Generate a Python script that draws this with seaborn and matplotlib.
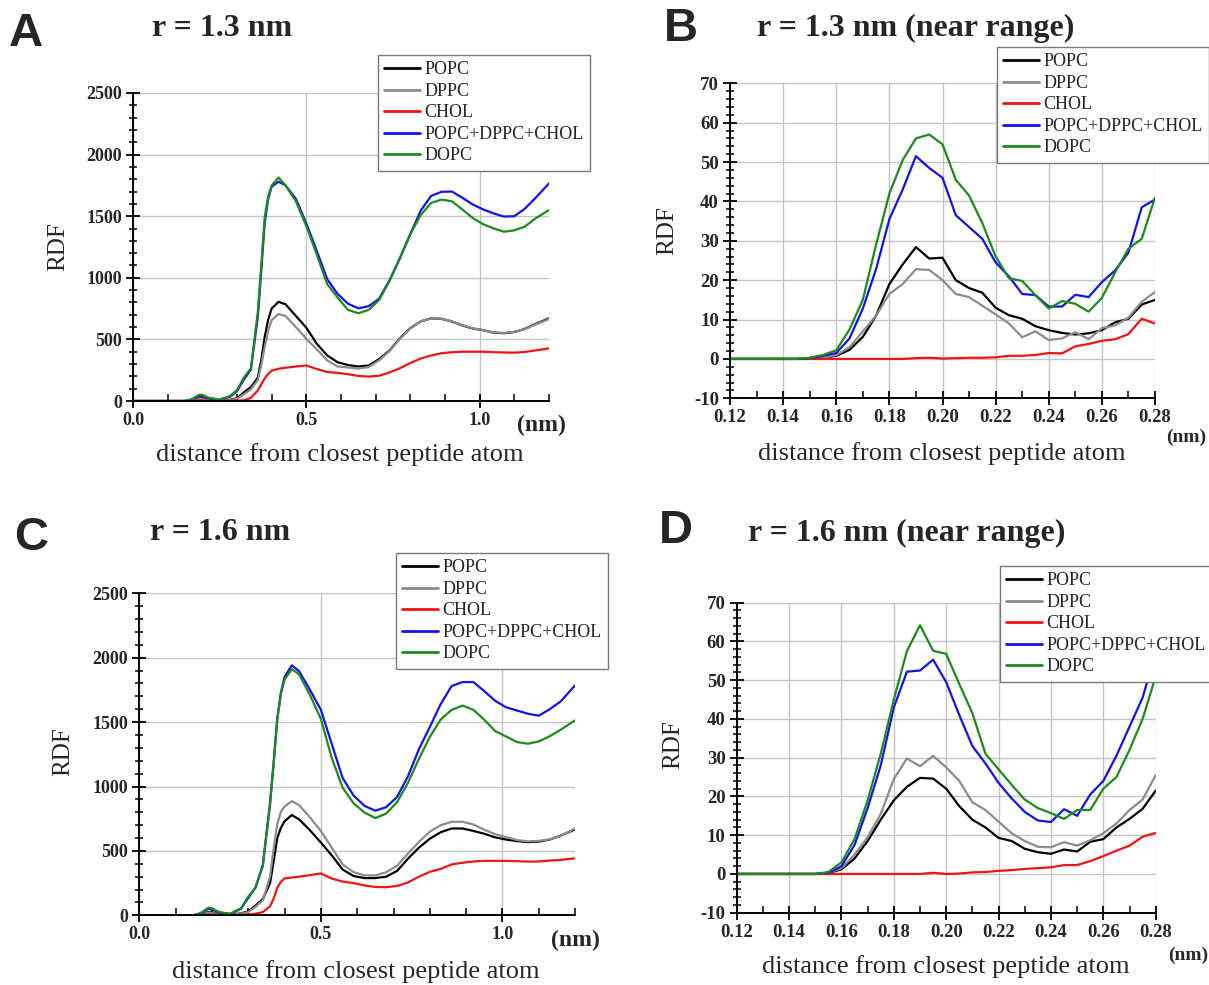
import numpy as np
import pandas as pd
import matplotlib
matplotlib.use("Agg")
import matplotlib.pyplot as plt
from matplotlib.ticker import MultipleLocator, FormatStrFormatter
import seaborn as sns

# ---------------------------------------------------------------
# data
# ---------------------------------------------------------------
lipids = ["POPC", "DPPC", "CHOL", "POPC+DPPC+CHOL", "DOPC"]
lipid_colors = ["#000000", "#8c8c8c", "#f01414", "#1212ee", "#1c8a1c"]

# long range (panels A and C), nm
dist_long = [0.00, 0.10, 0.15, 0.17, 0.19, 0.20, 0.22, 0.25, 0.28,
             0.30, 0.32, 0.34, 0.36, 0.37, 0.38, 0.39, 0.40,
             0.42, 0.44, 0.47, 0.50,
             0.53, 0.56, 0.59, 0.62, 0.65, 0.68, 0.71, 0.74, 0.77, 0.80, 0.83,
             0.86, 0.89, 0.92, 0.95, 0.98, 1.01, 1.04, 1.07, 1.10, 1.13, 1.16,
             1.20]

a_popc = [0, 0, 0, 5, 20, 20, 10, 5, 10,
          22, 70, 112, 190, 330, 522, 660, 751,
          805, 785, 690, 595,
          465, 370, 315, 292, 280, 288, 340, 410, 509, 592, 646,
          671, 667, 645, 614, 588, 575, 555, 550, 560, 585, 624,
          671]
a_dppc = [0, 0, 0, 4, 15, 15, 8, 4, 8,
          18, 55, 95, 170, 290, 440, 570, 657,
          705, 690, 600, 505,
          420, 330, 280, 272, 263, 275, 330, 405, 505, 590, 646,
          671, 668, 646, 616, 590, 575, 557, 552, 562, 583, 620,
          665]
a_chol = [0, 0, 0, 0, 5, 5, 3, 2, 3,
          3, 6, 25, 85, 135, 184, 220, 246,
          262, 270, 280, 288,
          260, 235, 228, 218, 203, 198, 205, 232, 266, 308, 345,
          370, 388, 396, 400, 400, 400, 396, 394, 392, 398, 410,
          427]
a_mix = [0, 0, 0, 12, 40, 40, 20, 10, 35,
         80, 175, 255, 680, 1060, 1450, 1640, 1740,
         1780, 1750, 1640, 1440,
         1220, 990, 870, 790, 752, 770, 830, 980, 1160, 1355, 1545,
         1665, 1698, 1700, 1650, 1595, 1555, 1523, 1497, 1500, 1560, 1645,
         1766]
a_dopc = [0, 0, 0, 15, 50, 50, 25, 12, 40,
          89, 190, 265, 720, 1100, 1495, 1660, 1750,
          1814, 1750, 1620, 1420,
          1190, 950, 840, 740, 712, 740, 820, 975, 1160, 1355, 1510,
          1608, 1635, 1620, 1555, 1485, 1435, 1401, 1374, 1385, 1415, 1480,
          1550]

c_popc = [0, 0, 0, 5, 25, 22, 10, 5, 15,
          30, 75, 125, 250, 420, 600, 680, 730,
          778, 745, 660, 565,
          465, 355, 305, 289, 289, 300, 345, 440, 525, 595, 645,
          674, 674, 655, 633, 605, 588, 576, 568, 572, 588, 618,
          667]
c_dppc = [0, 0, 0, 4, 20, 18, 8, 4, 12,
          25, 65, 115, 300, 520, 710, 805, 845,
          886, 855, 760, 655,
          525, 395, 335, 310, 310, 335, 385, 480, 570, 650, 700,
          726, 726, 705, 665, 630, 607, 584, 574, 578, 590, 615,
          674]
c_chol = [0, 0, 0, 0, 5, 5, 3, 2, 3,
          5, 12, 25, 70, 130, 215, 260, 287,
          293, 300, 312, 325,
          285, 262, 250, 232, 220, 218, 228, 255, 300, 337, 360,
          395, 408, 418, 423, 423, 423, 420, 417, 418, 425, 430,
          442]
c_mix = [0, 0, 0, 15, 50, 45, 20, 10, 50,
         135, 215, 390, 870, 1190, 1530, 1730, 1850,
         1941, 1895, 1750, 1595,
         1330, 1065, 930, 850, 812, 840, 920, 1080, 1290, 1462, 1640,
         1780, 1811, 1811, 1740, 1665, 1615, 1590, 1565, 1550, 1600, 1660,
         1785]
c_dopc = [0, 0, 0, 20, 58, 55, 25, 12, 55,
          145, 215, 380, 860, 1180, 1520, 1720, 1830,
          1912, 1870, 1710, 1525,
          1220, 990, 870, 798, 755, 790, 880, 1030, 1215, 1385, 1520,
          1595, 1628, 1595, 1518, 1430, 1388, 1345, 1332, 1350, 1390, 1440,
          1514]

# near range (panels B and D), nm
dist_near = [0.120, 0.125, 0.130, 0.135, 0.140, 0.145, 0.150, 0.155, 0.160,
             0.165, 0.170, 0.175, 0.180, 0.185, 0.190, 0.195, 0.200, 0.205,
             0.210, 0.215, 0.220, 0.225, 0.230, 0.235, 0.240, 0.245, 0.250,
             0.255, 0.260, 0.265, 0.270, 0.275, 0.280]

b_popc = [0, 0, 0, 0, 0, 0, 0, 0.2, 0.8, 2.3, 5.6, 11, 19, 24, 28.4, 25.5,
          25.7, 20, 18, 16.8, 13, 11.1, 10.2, 8.3, 7.3, 6.6, 6.2, 6.5, 7.3,
          9.3, 10.2, 13.8, 15]
b_dppc = [0, 0, 0, 0, 0, 0, 0, 0.2, 1.0, 3.0, 7.0, 11, 16.5, 19, 22.8, 22.6,
          20, 16.5, 15.7, 13.5, 11.3, 9, 5.5, 7, 4.8, 5.2, 6.8, 5, 7.8, 8.5,
          10.5, 14.5, 17]
b_chol = [0, 0, 0, 0, 0, 0, 0, 0, 0, 0, 0, 0, 0, 0, 0.2, 0.3, 0.1, 0.2,
          0.3, 0.3, 0.4, 0.8, 0.8, 1.0, 1.5, 1.4, 3.2, 3.8, 4.6, 5.0, 6.3,
          10.2, 9.0]
b_mix = [0, 0, 0, 0, 0, 0, 0.2, 0.8, 1.5, 5.2, 12.8, 22.8, 35.5, 43, 51.5,
         48.5, 46, 36.5, 33.5, 30.5, 24.5, 21, 16.5, 16.2, 13.3, 13.3, 16.3,
         15.7, 19.5, 22.5, 27, 38.5, 40.5]
b_dopc = [0, 0, 0, 0, 0, 0, 0.3, 1.0, 2.2, 7.5, 15, 29, 42, 50.5, 56, 57,
          54.5, 45.5, 41.5, 34.5, 26, 20.5, 19.8, 16.2, 12.8, 14.7, 14, 12,
          15.5, 22, 28, 30.5, 41]

d_popc = [0, 0, 0, 0, 0, 0, 0, 0.2, 1.2, 4, 8.5, 14, 19, 22.5, 24.8, 24.6,
          22, 17.5, 14, 12, 9.3, 8.5, 6.5, 5.6, 5.2, 6.3, 5.8, 8.3, 9, 12,
          14.2, 16.8, 21.5]
d_dppc = [0, 0, 0, 0, 0, 0, 0, 0.3, 1.5, 5, 9.5, 15.5, 24.5, 29.8, 27.8,
          30.5, 27.5, 24, 18.5, 16.5, 13.5, 10.5, 8.5, 7, 6.9, 8.2, 7.3, 8.7,
          10.5, 13, 16.5, 19.2, 25.5]
d_chol = [0, 0, 0, 0, 0, 0, 0, 0, 0, 0, 0, 0, 0, 0, 0, 0.3, 0, 0.1, 0.4,
          0.5, 0.8, 1.0, 1.3, 1.5, 1.7, 2.3, 2.3, 3.3, 4.6, 6, 7.3, 9.6, 10.6]
d_mix = [0, 0, 0, 0, 0, 0, 0, 0.3, 2, 7.5, 17, 28, 43, 52.2, 52.5, 55.3,
         49.5, 41, 33, 28.5, 23.5, 19.5, 16, 13.8, 13.4, 16.7, 15, 20.5, 24,
         30.5, 38, 45.5, 57]
d_dopc = [0, 0, 0, 0, 0, 0, 0, 0.5, 3, 9, 19, 31, 45, 57.5, 64.2, 57.6,
          56.8, 49, 41.5, 31, 27, 23, 19.2, 17, 15.7, 14.2, 16.5, 16.5, 22,
          25, 32, 40, 51]

# ---------------------------------------------------------------
# style
# ---------------------------------------------------------------
sns.set_style("ticks")
plt.rcParams["font.family"] = ["Liberation Serif", "DejaVu Serif"]
plt.rcParams["axes.unicode_minus"] = False

W, H = 1209, 985
palette = dict(zip(lipids, lipid_colors))


def make_frame(distance, series):
    """Long-form table for one panel."""
    frame = pd.DataFrame({"distance": distance})
    for name, values in zip(lipids, series):
        frame[name] = values
    return frame.melt(id_vars="distance", var_name="lipid", value_name="RDF")


def fig_xy(px, py):
    return px / W, 1 - py / H


def draw_panel(fig, rect, frame, xlim, ylim, xmajor, xminor, ymajor, yminor,
               xfmt, xtick_size, ytick_size, legend_corner, label_pos):
    ax = fig.add_axes(rect)

    sns.lineplot(
        data=frame,
        x="distance",
        y="RDF",
        hue="lipid",
        hue_order=lipids,
        palette=palette,
        estimator=None,
        sort=False,
        linewidth=1.6,
        ax=ax
    )

    ax.set_xlim(*xlim)
    ax.set_ylim(*ylim)

    ax.xaxis.set_major_locator(MultipleLocator(xmajor))
    ax.xaxis.set_minor_locator(MultipleLocator(xminor))
    ax.yaxis.set_major_locator(MultipleLocator(ymajor))
    ax.yaxis.set_minor_locator(MultipleLocator(yminor))
    ax.xaxis.set_major_formatter(FormatStrFormatter(xfmt))

    ax.grid(True, which="major", color="#c4c4c4", linewidth=1.0)
    ax.set_axisbelow(True)

    sns.despine(ax=ax)
    for side in ["left", "bottom"]:
        ax.spines[side].set_linewidth(1.4)
        ax.spines[side].set_color("black")

    ax.tick_params(which="both", bottom=True, left=True, top=False,
                   right=False)
    ax.tick_params(which="major", direction="inout", length=10, width=1.3,
                   color="black")
    ax.tick_params(which="minor", direction="inout", length=6, width=1.1,
                   color="black")
    ax.tick_params(axis="x", which="minor", direction="in", length=5)
    ax.tick_params(axis="x", which="major", labelsize=xtick_size, pad=3)
    ax.tick_params(axis="y", which="major", labelsize=ytick_size, pad=3)
    for label in ax.get_xticklabels() + ax.get_yticklabels():
        label.set_fontweight("bold")

    ax.set_xlabel("distance from closest peptide atom", fontsize=19)
    ax.set_ylabel("RDF", fontsize=18)
    ax.xaxis.set_label_coords(*label_pos[0])
    ax.yaxis.set_label_coords(*label_pos[1])
    ax.xaxis.label.set_va("center")
    ax.yaxis.label.set_va("center")

    handles, labels = ax.get_legend_handles_labels()
    keep = [(h, l) for h, l in zip(handles, labels) if l in lipids]
    legend = ax.legend(
        [h for h, _ in keep],
        [l for _, l in keep],
        loc="upper left",
        bbox_to_anchor=fig_xy(*legend_corner),
        bbox_transform=fig.transFigure,
        fontsize=13,
        frameon=True,
        fancybox=False,
        framealpha=1,
        edgecolor="#7a7a7a",
        labelspacing=0.25,
        handlelength=2.0,
        handletextpad=0.2,
        borderpad=0.35,
        borderaxespad=0
    )
    legend.get_frame().set_linewidth(1.0)
    for line in legend.get_lines():
        line.set_linewidth(2.0)

    return ax


fig = plt.figure(figsize=(W / 100, H / 100), dpi=100)

long_ticks = dict(xlim=(0, 1.2), ylim=(0, 2500), xmajor=0.5, xminor=0.1,
                  ymajor=500, yminor=100, xfmt="%.1f",
                  xtick_size=13, ytick_size=13)
near_ticks = dict(xlim=(0.12, 0.28), ylim=(-10, 70), xmajor=0.02,
                  xminor=0.01, ymajor=10, yminor=2, xfmt="%.2f",
                  xtick_size=13.5, ytick_size=13.5)

# A
draw_panel(fig, [133 / W, 1 - 401 / H, 416 / W, 308 / H],
           make_frame(dist_long, [a_popc, a_dppc, a_chol, a_mix, a_dopc]),
           legend_corner=(378, 55),
           label_pos=((0.498, -0.175), (-0.18, 0.5)),
           **long_ticks)
# B
draw_panel(fig, [730 / W, 1 - 398.3 / H, 425 / W, 315 / H],
           make_frame(dist_near, [b_popc, b_dppc, b_chol, b_mix, b_dopc]),
           legend_corner=(997, 47),
           label_pos=((0.499, -0.174), (-0.148, 0.534)),
           **near_ticks)
# C
draw_panel(fig, [139.3 / W, 1 - 915.3 / H, 435.8 / W, 322 / H],
           make_frame(dist_long, [c_popc, c_dppc, c_chol, c_mix, c_dopc]),
           legend_corner=(396, 553),
           label_pos=((0.497, -0.176), (-0.175, 0.507)),
           **long_ticks)
# D
draw_panel(fig, [736.7 / W, 1 - 912.7 / H, 419 / W, 310 / H],
           make_frame(dist_near, [d_popc, d_dppc, d_chol, d_mix, d_dopc]),
           legend_corner=(1000, 566),
           label_pos=((0.5, -0.175), (-0.152, 0.541)),
           **near_ticks)

# panel letters and titles
panel_text = [
    ("A", (26, 34), "r = 1.3 nm", (152, 28)),
    ("B", (681, 29), "r = 1.3 nm (near range)", (757, 28)),
    ("C", (31, 538), "r = 1.6 nm", (150, 533)),
    ("D", (676, 531), "r = 1.6 nm (near range)", (748, 533)),
]
for letter, letter_pos, title, title_pos in panel_text:
    fig.text(*fig_xy(*letter_pos), letter, ha="center", va="center",
             fontsize=34, fontweight="bold", family="Liberation Sans")
    fig.text(*fig_xy(*title_pos), title, ha="left", va="center",
             fontsize=23, fontweight="bold")

# unit labels
for pos, size in [((541, 425), 17), ((1186, 437), 14),
                  ((575, 940), 17), ((1188, 955), 14)]:
    fig.text(*fig_xy(*pos), "(nm)", ha="center", va="center",
             fontsize=size, fontweight="bold")

fig.savefig("out.png", dpi=100)
